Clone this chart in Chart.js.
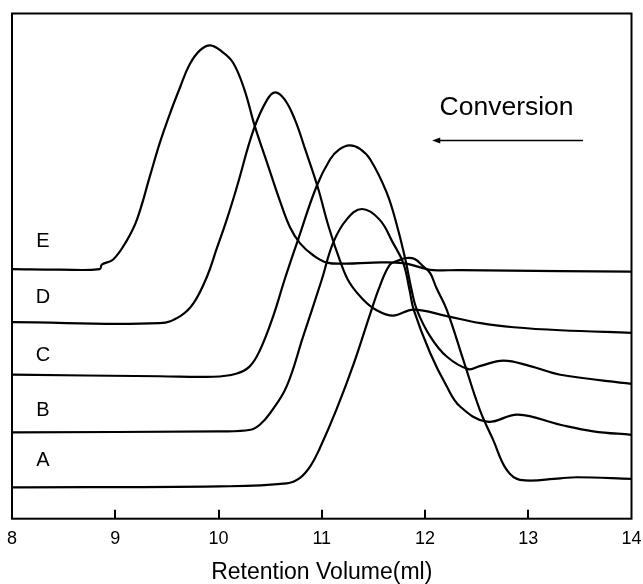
<!DOCTYPE html>
<html lang="en">
<head>
<meta charset="UTF-8">
<title>GPC traces</title>
<script src="https://cdn.jsdelivr.net/npm/chart.js"></script>
<style>
    html, body { margin: 0; padding: 0; background: #fff; }
    canvas { display: block; }
</style>
</head>
<body>
<canvas id="gpcChart" width="643" height="584"></canvas>
<script>
// retention volume (ml) and offset detector response for each trace
const volA = [8.00, 10.01, 10.66, 10.79, 10.89, 10.98, 11.14, 11.31, 11.47, 11.56, 11.66, 11.74, 11.82, 11.90, 11.98, 12.05, 12.11, 12.21, 12.37, 12.53, 12.66, 12.79, 12.92, 13.31, 13.47, 14.00];
const sigA = [6.2, 6.4, 7.0, 8.1, 10.4, 13.9, 21.5, 30.7, 40.6, 45.9, 50.3, 51.1, 51.6, 51.4, 50.0, 48.6, 45.7, 41.4, 31.5, 21.6, 15.6, 9.7, 7.7, 8.0, 8.2, 7.9];

const volB = [8.00, 10.01, 10.31, 10.40, 10.50, 10.66, 10.82, 11.00, 11.11, 11.24, 11.39, 11.56, 11.69, 11.79, 11.85, 11.89, 12.05, 12.21, 12.34, 12.60, 12.90, 13.31, 13.63, 14.00];
const sigB = [17.1, 17.3, 17.6, 18.6, 20.9, 26.2, 36.1, 47.3, 54.6, 59.2, 61.3, 59.2, 54.6, 50.6, 45.3, 41.4, 32.8, 26.2, 22.2, 19.2, 20.6, 18.6, 17.3, 16.6];

const volC = [8.00, 9.43, 9.95, 10.17, 10.30, 10.40, 10.53, 10.64, 10.76, 10.95, 11.08, 11.17, 11.27, 11.37, 11.47, 11.63, 11.73, 11.81, 11.87, 11.92, 12.05, 12.21, 12.42, 12.53, 12.76, 13.02, 13.31, 14.00];
const sigC = [28.5, 28.2, 28.1, 28.7, 30.1, 33.3, 40.1, 47.3, 54.6, 65.8, 71.1, 73.1, 73.9, 73.2, 71.1, 64.5, 57.9, 51.3, 45.3, 41.4, 36.1, 32.1, 29.6, 30.2, 31.3, 30.2, 28.5, 26.7];

const volD = [8.00, 9.43, 9.63, 9.76, 9.89, 9.98, 10.08, 10.18, 10.34, 10.47, 10.55, 10.64, 10.74, 10.84, 10.96, 11.07, 11.18, 11.27, 11.40, 11.52, 11.69, 11.89, 12.21, 12.54, 12.86, 13.31, 14.00];
const sigD = [38.9, 38.7, 40.1, 42.7, 48.0, 53.3, 59.2, 65.8, 77.0, 82.9, 84.4, 83.0, 79.0, 73.1, 65.7, 57.6, 50.9, 46.7, 43.4, 41.4, 40.2, 41.4, 40.1, 38.7, 37.9, 37.3, 36.8];

const volE = [8.00, 8.46, 8.85, 8.87, 8.98, 9.11, 9.21, 9.34, 9.43, 9.53, 9.63, 9.72, 9.82, 9.92, 10.03, 10.14, 10.25, 10.35, 10.47, 10.60, 10.69, 10.79, 10.92, 11.05, 11.24, 11.50, 11.79, 11.98, 12.08, 12.34, 13.31, 14.00];
const sigE = [49.4, 49.3, 49.4, 50.3, 51.3, 55.0, 59.2, 68.1, 74.3, 80.2, 85.5, 89.9, 92.7, 93.7, 92.5, 90.3, 85.0, 77.8, 70.5, 62.6, 57.8, 54.5, 52.1, 50.7, 50.5, 50.7, 50.6, 49.6, 49.2, 49.2, 49.0, 48.9];

const traceNames = ['A', 'B', 'C', 'D', 'E'];
const xTicks = [8, 9, 10, 11, 12, 13, 14];

const traces = [[volA, sigA], [volB, sigB], [volC, sigC], [volD, sigD], [volE, sigE]];
const FONT = '"Liberation Sans", Arial, Helvetica, sans-serif';

// box around the plot, inward ticks and the text notes
const framePlugin = {
    id: 'frame',
    afterDraw(chart, args, opts) {
        const { ctx, chartArea: a, scales: { x, y } } = chart;
        ctx.save();
        ctx.strokeStyle = '#000';
        ctx.fillStyle = '#000';
        ctx.lineWidth = 2;
        ctx.strokeRect(a.left, a.top, a.right - a.left, a.bottom - a.top);

        ctx.beginPath();
        x.ticks.forEach(t => {
            if (t.value <= x.min || t.value >= x.max) return;
            const px = Math.round(x.getPixelForValue(t.value));
            ctx.moveTo(px, a.bottom);
            ctx.lineTo(px, a.bottom - 9);
        });
        ctx.stroke();

        ctx.textAlign = 'center';
        ctx.textBaseline = 'middle';
        ctx.font = '20px ' + FONT;
        opts.letters.forEach(l => {
            ctx.fillText(l.text, x.getPixelForValue(l.x), y.getPixelForValue(l.y));
        });

        ctx.font = '26.5px ' + FONT;
        ctx.fillText(opts.note.text, x.getPixelForValue(opts.note.x), y.getPixelForValue(opts.note.y));

        // arrow pointing toward lower retention volume
        const ay = Math.round(y.getPixelForValue(opts.arrow.y)) + 0.5;
        const x0 = x.getPixelForValue(opts.arrow.from);
        const x1 = x.getPixelForValue(opts.arrow.to);
        ctx.lineWidth = 1.3;
        ctx.beginPath();
        ctx.moveTo(x0, ay);
        ctx.lineTo(x1 + 5, ay);
        ctx.stroke();
        ctx.beginPath();
        ctx.moveTo(x1, ay);
        ctx.lineTo(x1 + 8, ay - 3);
        ctx.lineTo(x1 + 8, ay + 3);
        ctx.closePath();
        ctx.fill();
        ctx.restore();
    }
};

new Chart(document.getElementById('gpcChart'), {
    type: 'line',
    data: {
        datasets: traces.map(([vol, sig], i) => ({
            label: traceNames[i],
            data: vol.map((v, j) => ({ x: v, y: sig[j] })),
            borderColor: '#000',
            borderWidth: 2.2,
            pointRadius: 0,
            fill: false,
            tension: 0.4
        }))
    },
    options: {
        responsive: false,
        animation: false,
        layout: { padding: { left: 12, right: 11.5, top: 13.5, bottom: 0 } },
        scales: {
            x: {
                type: 'linear',
                min: 8,
                max: 14,
                afterBuildTicks: s => { s.ticks = xTicks.map(v => ({ value: v })); },
                afterFit: s => {
                    s.height = 65.3;
                    s.paddingLeft = 0;
                    s.paddingRight = 0;
                },
                grid: { display: false, drawTicks: false },
                border: { display: false },
                ticks: {
                    color: '#000',
                    padding: 10,
                    maxRotation: 0,
                    autoSkip: false,
                    font: { family: FONT, size: 18 }
                },
                title: {
                    display: true,
                    text: 'Retention Volume(ml)',
                    color: '#000',
                    padding: { top: 0, bottom: -2 },
                    font: { family: FONT, size: 23 }
                }
            },
            y: { display: false, min: 0, max: 100 }
        },
        plugins: {
            legend: { display: false },
            tooltip: { enabled: false },
            frame: {
                letters: [
                    { text: 'E', x: 8.30, y: 54.9 },
                    { text: 'D', x: 8.30, y: 43.7 },
                    { text: 'C', x: 8.30, y: 32.4 },
                    { text: 'B', x: 8.30, y: 21.4 },
                    { text: 'A', x: 8.30, y: 11.5 }
                ],
                note: { text: 'Conversion', x: 12.79, y: 81.4 },
                arrow: { from: 13.53, to: 12.07, y: 75.0 }
            }
        }
    },
    plugins: [framePlugin]
});
</script>
</body>
</html>
